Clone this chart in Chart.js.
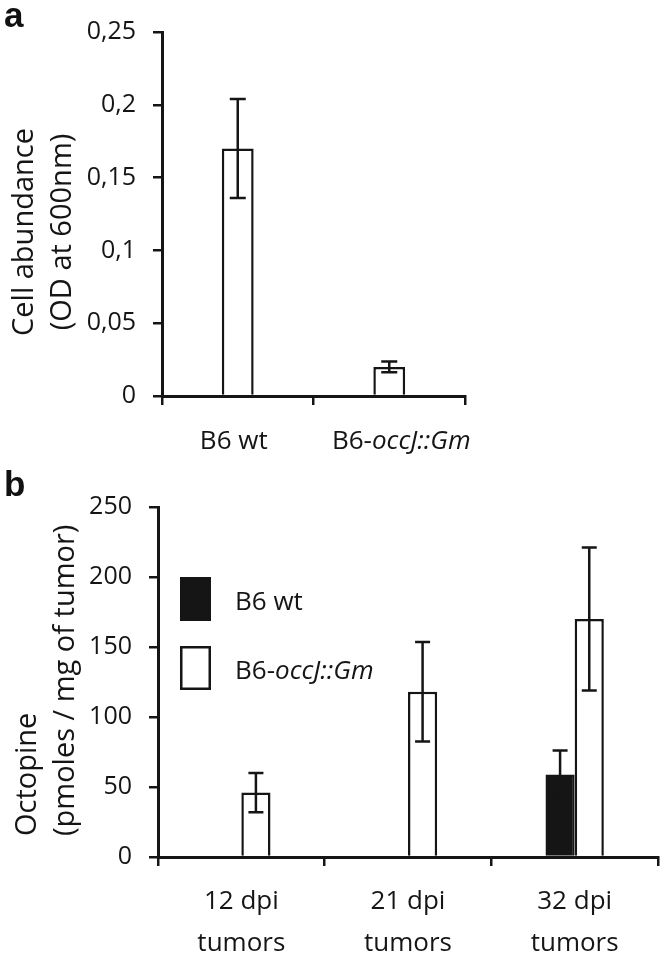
<!DOCTYPE html>
<html>
<head>
<meta charset="utf-8">
<script src="https://cdn.jsdelivr.net/npm/chart.js@4.4.1/dist/chart.umd.min.js"></script>
<style>
  html, body { margin: 0; padding: 0; background: #fff; }
  #wrap { position: relative; width: 666px; height: 958px; overflow: hidden; }
  canvas { position: absolute; left: 0; }
  #cell { top: 0; }
  #octo { top: 475px; }
  .tag { position: absolute; left: 4px; font: bold 35px "Liberation Sans", Arial, sans-serif; line-height: 34px; color: #111; }
</style>
</head>
<body>
<div id="wrap">
  <canvas id="cell" width="666" height="475"></canvas>
  <canvas id="octo" width="666" height="483"></canvas>
  <div class="tag" style="top:-2px">a</div>
  <div class="tag" style="top:467px">b</div>
</div>
<script>
// panel a: cell abundance
const strains = ['B6 wt', 'B6-occJ::Gm'];
const strainParts = [[['B6 wt', false]], [['B6-', false], ['occJ::Gm', true]]];
const odMean = [0.17, 0.02];
const odErr = [0.034, 0.0037];
const odTicks = ['0', '0,05', '0,1', '0,15', '0,2', '0,25'];

// panel b: octopine
const stages = [['12 dpi', 'tumors'], ['21 dpi', 'tumors'], ['32 dpi', 'tumors']];
const wtOcto = [null, null, 59];
const wtOctoErr = [null, null, 17];
const occOcto = [46, 118, 170];
const occOctoErr = [14, 35.5, 51];
const octoTicks = ['0', '50', '100', '150', '200', '250'];

const INK = '#151515';
const FONT = '"Open Sans", Lato, sans-serif';

function drawRich(ctx, parts, x, y, size) {
  const fonts = parts.map(p => (p[1] ? 'italic ' : '') + size + 'px ' + FONT);
  const widths = parts.map((p, i) => { ctx.font = fonts[i]; return ctx.measureText(p[0]).width; });
  let cx = x - widths.reduce((a, b) => a + b, 0) / 2;
  parts.forEach((p, i) => {
    ctx.font = fonts[i];
    ctx.fillText(p[0], cx, y);
    cx += widths[i];
  });
}

const errorBars = {
  id: 'errorBars',
  afterDatasetsDraw(chart, args, opts) {
    const ctx = chart.ctx, y = chart.scales.y;
    ctx.save();
    ctx.strokeStyle = INK;
    ctx.lineWidth = 2.5;
    chart.data.datasets.forEach((ds, di) => {
      if (!ds.errors) return;
      chart.getDatasetMeta(di).data.forEach((bar, i) => {
        const v = ds.data[i], e = ds.errors[i];
        if (v == null || e == null) return;
        const top = y.getPixelForValue(v + e), bot = y.getPixelForValue(v - e);
        ctx.beginPath();
        ctx.moveTo(bar.x, top); ctx.lineTo(bar.x, bot);
        ctx.moveTo(bar.x - opts.cap, top); ctx.lineTo(bar.x + opts.cap, top);
        ctx.moveTo(bar.x - opts.cap, bot); ctx.lineTo(bar.x + opts.cap, bot);
        ctx.stroke();
      });
    });
    ctx.restore();
  }
};

// rotated two-line y title, drawn next to the axis
const yTitle = {
  id: 'yTitle',
  afterDraw(chart, args, opts) {
    const ctx = chart.ctx;
    ctx.save();
    ctx.fillStyle = INK;
    ctx.font = opts.size + 'px ' + FONT;
    ctx.textBaseline = 'alphabetic';
    ctx.textAlign = opts.align;
    opts.lines.forEach((t, i) => {
      ctx.save();
      ctx.translate(opts.x[i], opts.y);
      ctx.rotate(-Math.PI / 2);
      ctx.fillText(t, 0, 0);
      ctx.restore();
    });
    ctx.restore();
  }
};

const strainLabels = {
  id: 'strainLabels',
  afterDraw(chart) {
    const ctx = chart.ctx, x = chart.scales.x;
    ctx.save();
    ctx.fillStyle = INK;
    ctx.textAlign = 'left';
    ctx.textBaseline = 'alphabetic';
    strainParts.forEach((parts, i) => drawRich(ctx, parts, x.getPixelForValue(i) + (i ? 12 : -4), 449, 26));
    ctx.restore();
  }
};

const legendBox = {
  id: 'legendBox',
  afterDraw(chart) {
    const ctx = chart.ctx, area = chart.chartArea;
    const items = [
      { ds: chart.data.datasets[0], parts: [['B6 wt', false]] },
      { ds: chart.data.datasets[1], parts: [['B6-', false], ['occJ::Gm', true]] }
    ];
    ctx.save();
    items.forEach((it, i) => {
      const bx = area.left + 22, by = area.top + 70 + i * 69;
      ctx.fillStyle = it.ds.backgroundColor;
      ctx.fillRect(bx, by, 31, 44);
      ctx.strokeStyle = it.ds.borderColor;
      ctx.lineWidth = 2.5;
      ctx.strokeRect(bx + 1.25, by + 1.25, 28.5, 41.5);
      ctx.fillStyle = INK;
      ctx.textBaseline = 'alphabetic';
      ctx.textAlign = 'left';
      let cx = bx + 55;
      it.parts.forEach(p => {
        ctx.font = (p[1] ? 'italic ' : '') + '26px ' + FONT;
        ctx.fillText(p[0], cx, by + 33);
        cx += ctx.measureText(p[0]).width;
      });
    });
    ctx.restore();
  }
};

function axisGrid() {
  return { display: true, drawOnChartArea: false, drawTicks: true, tickLength: 9, color: INK, lineWidth: 2.5 };
}

new Chart(document.getElementById('cell'), {
  type: 'bar',
  data: {
    labels: strains,
    datasets: [{
      data: odMean,
      errors: odErr,
      backgroundColor: '#ffffff',
      borderColor: INK,
      borderWidth: 2.5,
      categoryPercentage: 1,
      barPercentage: 0.21
    }]
  },
  options: {
    responsive: false,
    animation: false,
    layout: { padding: { left: 0, right: 201, top: 30, bottom: 0 } },
    plugins: {
      legend: { display: false },
      tooltip: { enabled: false },
      errorBars: { cap: 8 },
      yTitle: { lines: ['Cell abundance', '(OD at 600nm)'], x: [33, 71], y: 232, align: 'center', size: 29 }
    },
    scales: {
      x: {
        grid: axisGrid(),
        border: { display: true, color: INK, width: 3 },
        ticks: { display: false },
        afterFit(s) { s.height = 79; }
      },
      y: {
        min: 0, max: 0.25,
        grid: axisGrid(),
        border: { display: true, color: INK, width: 3 },
        ticks: {
          stepSize: 0.05, padding: 17, color: INK,
          font: { family: FONT, size: 25 },
          callback: (v, i) => odTicks[i]
        },
        afterFit(s) { s.width = 162; }
      }
    }
  },
  plugins: [errorBars, yTitle, strainLabels]
});

new Chart(document.getElementById('octo'), {
  type: 'bar',
  data: {
    labels: stages,
    datasets: [{
      label: 'B6 wt',
      data: wtOcto,
      errors: wtOctoErr,
      backgroundColor: INK,
      borderColor: INK,
      borderWidth: 2.5,
      categoryPercentage: 0.35,
      barPercentage: 1
    }, {
      label: 'B6-occJ::Gm',
      data: occOcto,
      errors: occOctoErr,
      backgroundColor: '#ffffff',
      borderColor: INK,
      borderWidth: 2.5,
      categoryPercentage: 0.35,
      barPercentage: 1
    }]
  },
  options: {
    responsive: false,
    animation: false,
    layout: { padding: { left: 0, right: 8, top: 23, bottom: 0 } },
    plugins: {
      legend: { display: false },
      tooltip: { enabled: false },
      errorBars: { cap: 7.5 },
      yTitle: { lines: ['Octopine', '(pmoles / mg of tumor)'], x: [36, 74], y: 361, align: 'left', size: 29 }
    },
    scales: {
      x: {
        grid: axisGrid(),
        border: { display: true, color: INK, width: 3 },
        ticks: {
          padding: 15, color: INK,
          font: { family: FONT, size: 26, lineHeight: '42px' }
        },
        afterFit(s) { s.height = 101; }
      },
      y: {
        min: 0, max: 250,
        grid: axisGrid(),
        border: { display: true, color: INK, width: 3 },
        ticks: {
          stepSize: 50, padding: 17, color: INK,
          font: { family: FONT, size: 25 },
          callback: (v, i) => octoTicks[i]
        },
        afterFit(s) { s.width = 158; }
      }
    }
  },
  plugins: [errorBars, yTitle, legendBox]
});
</script>
</body>
</html>
